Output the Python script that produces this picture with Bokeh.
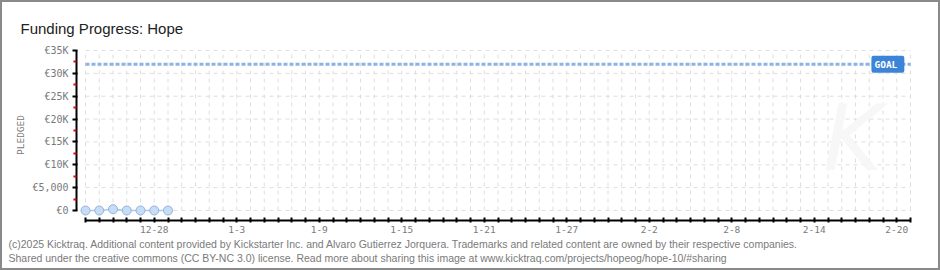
from datetime import date

from bokeh.embed import file_html
from bokeh.models import FixedTicker, Label, Range1d, Title
from bokeh.plotting import figure
from bokeh.resources import INLINE

# ---------------- data ----------------
start_date = date(2024, 12, 23)
n_days = 60
point_days = [0, 1, 2, 3, 4, 5, 6]                 # 12-23 .. 12-29
pledged = [0, 0, 290, 0, 0, 0, 0]                  # euros
goal = 32000
x_tick_days = [5, 11, 17, 23, 29, 35, 41, 47, 53, 59]
x_tick_labels = ["12-28", "1-3", "1-9", "1-15", "1-21", "1-27", "2-2", "2-8", "2-14", "2-20"]
y_ticks = [0, 5000, 10000, 15000, 20000, 25000, 30000, 35000]
y_tick_labels = ["€0", "€5,000", "€10K", "€15K", "€20K", "€25K", "€30K", "€35K"]
title_text = "Funding Progress: Hope"
footer_1 = ("(c)2025 Kicktraq. Additional content provided by Kickstarter Inc. and Alvaro Gutierrez "
            "Jorquera. Trademarks and related content are owned by their respective companies.")
footer_2 = ("Shared under the creative commons (CC BY-NC 3.0) license. Read more about sharing this "
            "image at www.kicktraq.com/projects/hopeog/hope-10/#sharing")

# ---------------- figure ----------------
W, H = 940, 270
y_top = y_ticks[-1]
px_day = 13.75
px_val = 160 / y_top
x_start = -9 / px_day
x_end = x_start + 836 / px_day
y_start = -10 / px_val
y_end = y_top + 1 / px_val

p = figure(width=W, height=H, output_backend="svg", toolbar_location=None,
           x_range=Range1d(x_start, x_end), y_range=Range1d(y_start, y_end),
           min_border_left=74, min_border_right=30, min_border_top=47, min_border_bottom=52)
p.styles = {"border": "2px solid #8a8a8a"}
p.outline_line_color = None
p.grid.visible = False
p.background_fill_color = "white"
p.border_fill_color = None

mono = "DejaVu Sans Mono"
sans = "Liberation Sans"

# title
p.title.text = title_text
p.title.align = "left"
p.title.offset = -56
p.title.standoff = 26
p.title.text_font = sans
p.title.text_font_size = "15px"
p.title.text_font_style = "normal"
p.title.text_color = "#222222"

# x axis
xa = p.xaxis[0]
xa.ticker = FixedTicker(ticks=list(range(n_days + 1)), minor_ticks=[])
overrides = {d: "" for d in range(n_days + 1)}
for d, lab in zip(x_tick_days, x_tick_labels):
    overrides[d] = lab
xa.major_label_overrides = overrides
xa.bounds = (0, n_days)
xa.axis_line_width = 2
xa.axis_line_color = "black"
xa.major_tick_line_width = 2
xa.major_tick_in = 3
xa.major_tick_out = 2
xa.major_label_standoff = 3
xa.major_label_text_font = mono
xa.major_label_text_font_size = "9.5px"
xa.major_label_text_color = "#7a7a7a"

# y axis
ya = p.yaxis[0]
ya.ticker = FixedTicker(ticks=y_ticks,
                        minor_ticks=[t + (y_ticks[1] - y_ticks[0]) / 2 for t in y_ticks[:-1]])
ya.major_label_overrides = {t: lab for t, lab in zip(y_ticks, y_tick_labels)}
ya.bounds = (0, y_top)
ya.axis_line_width = 2
ya.axis_line_color = "black"
ya.major_tick_line_width = 2
ya.major_tick_in = 1
ya.major_tick_out = 4
ya.minor_tick_line_color = "#e00000"
ya.minor_tick_line_width = 2
ya.minor_tick_in = 0
ya.minor_tick_out = 3
ya.major_label_standoff = 4
ya.major_label_text_font = mono
ya.major_label_text_font_size = "10px"
ya.major_label_text_color = "#7a7a7a"
ya.axis_label = "PLEDGED"
ya.axis_label_text_font = mono
ya.axis_label_text_font_size = "9.5px"
ya.axis_label_text_font_style = "normal"
ya.axis_label_text_color = "#7a7a7a"
ya.axis_label_standoff = 3

# footer lines
for line in (footer_1, footer_2):
    p.add_layout(Title(text=line, align="left", offset=-68, standoff=0,
                       text_font=sans, text_font_size="10.5px", text_font_style="normal",
                       text_line_height=1.1, text_color="#7a7a7a"), "below")

# manual dashed grid (only over the data area)
grid_days = list(range(n_days + 1))
grid_vals = y_ticks
p.segment(x0=grid_days, y0=[0] * len(grid_days), x1=grid_days, y1=[y_top] * len(grid_days),
          line_color="#dedede", line_width=1, line_dash="4 4")
p.segment(x0=[0] * len(grid_vals), y0=grid_vals, x1=[n_days] * len(grid_vals), y1=grid_vals,
          line_color="#dedede", line_width=1, line_dash="4 4")

# watermark
p.add_layout(Label(x=n_days - 4.2, y=y_top * 0.12, text="K", text_font="DejaVu Sans",
                   text_font_style="italic", text_font_size="90px",
                   text_color="#f7f7f7", text_align="center", text_baseline="bottom"))

# goal line
p.line(x=[0, n_days], y=[goal, goal], line_color="#8db3e2", line_width=3, line_dash="4 2")
p.add_layout(Label(x=n_days - 2.84, y=goal, text="GOAL", text_font=mono,
                   text_font_style="bold", text_font_size="9.5px", text_color="white",
                   text_align="left", text_baseline="middle",
                   background_fill_color="#3b84d8", border_radius=2,
                   padding=(3, 7, 3, 3)))

# pledged series
p.line(x=point_days, y=pledged, line_color="#a9c9ef", line_width=1.5)
p.scatter(x=point_days, y=pledged, size=9, fill_color="#c7ddf6", line_color="#93b3da",
          line_width=1)

open("out.html", "w").write(file_html(p, INLINE))
